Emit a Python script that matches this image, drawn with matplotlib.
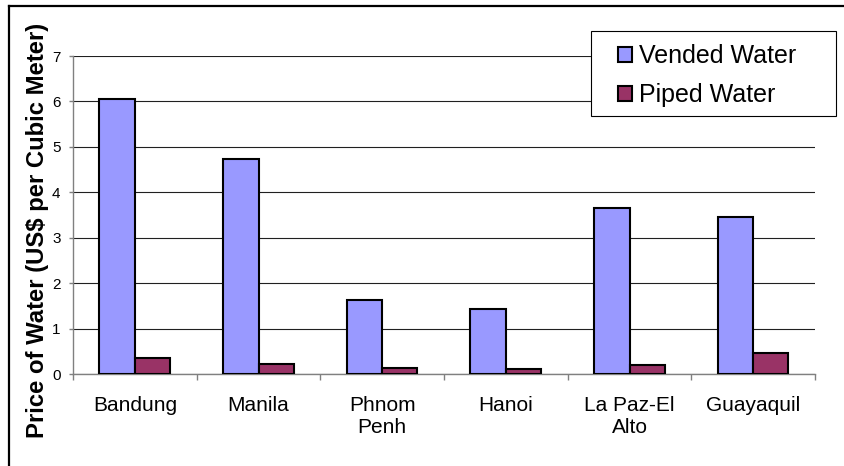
import matplotlib
matplotlib.use("Agg")
import numpy as np
import matplotlib.pyplot as plt
from matplotlib.patches import Rectangle, Patch
from matplotlib.lines import Line2D

CITIES = ["Bandung", "Manila", "Phnom\nPenh", "Hanoi", "La Paz-El\nAlto", "Guayaquil"]
VENDED = [6.05, 4.73, 1.62, 1.42, 3.65, 3.45]
PIPED = [0.36, 0.21, 0.14, 0.10, 0.20, 0.46]
Y_TICKS = [0, 1, 2, 3, 4, 5, 6, 7]

VENDED_COLOR = "#9999FF"
PIPED_COLOR = "#993366"

plt.rcParams["font.family"] = ["Liberation Sans", "DejaVu Sans"]

W, H = 844, 466
fig = plt.figure(figsize=(W / 100, H / 100), dpi=100)
ax = fig.add_axes([73 / W, 1 - 374 / H, (815 - 73) / W, (374 - 56) / H])

x = np.arange(len(CITIES))
width = 1 / 3.5
ax.bar(x - width / 2, VENDED, width, color=VENDED_COLOR, edgecolor="black", linewidth=1.5, zorder=3)
ax.bar(x + width / 2, PIPED, width, color=PIPED_COLOR, edgecolor="black", linewidth=1.5, zorder=3)

ax.set_xlim(-0.5, len(CITIES) - 0.5)
ax.set_ylim(0, 7)
ax.set_yticks(Y_TICKS)
ax.set_yticklabels([str(t) for t in Y_TICKS], fontsize=11)
ax.yaxis.grid(True, color="#202020", linewidth=0.8, zorder=0)
ax.set_axisbelow(True)

# category labels at centers, separator ticks between categories
ax.set_xticks(x)
ax.set_xticklabels(CITIES, fontsize=15)
ax.set_xticks(np.arange(-0.5, len(CITIES), 1.0), minor=True)
ax.tick_params(axis="x", which="major", length=0, pad=16)
ax.tick_params(axis="x", which="minor", length=4.5, width=1, color="#808080", direction="out")
ax.tick_params(axis="y", length=3, width=1, color="#808080", pad=6)

for side in ("top", "right"):
    ax.spines[side].set_visible(False)
for side in ("left", "bottom"):
    ax.spines[side].set_color("#808080")
    ax.spines[side].set_linewidth(1.0)

fig.text(38 / W, 1 - 230 / H, "Price of Water (US$ per Cubic Meter)", rotation=90,
         fontsize=17.2, fontweight="bold", ha="center", va="center")

# legend box
fig.patches.append(Rectangle((591 / W, 1 - 116 / H), 245 / W, 85 / H, transform=fig.transFigure,
                             facecolor="white", edgecolor="black", linewidth=0.8, zorder=4))
handles = [Patch(facecolor=VENDED_COLOR, edgecolor="black", linewidth=1.5, label="Vended Water"),
           Patch(facecolor=PIPED_COLOR, edgecolor="black", linewidth=1.5, label="Piped Water")]
fig.legend(handles=handles, loc="upper left", bbox_to_anchor=(618 / W, 1 - 44 / H), frameon=False,
           fontsize=18, borderpad=0, handlelength=0.55, handleheight=0.55, handletextpad=0.3,
           labelspacing=0.6, borderaxespad=0)

# figure frame (top and left edges)
fig.add_artist(Line2D([9 / W, 9 / W], [0, 1 - 6 / H], transform=fig.transFigure, color="black", linewidth=1.6))
fig.add_artist(Line2D([9 / W, 1], [1 - 6 / H, 1 - 6 / H], transform=fig.transFigure, color="black", linewidth=1.6))

fig.savefig("out.png", dpi=100)
